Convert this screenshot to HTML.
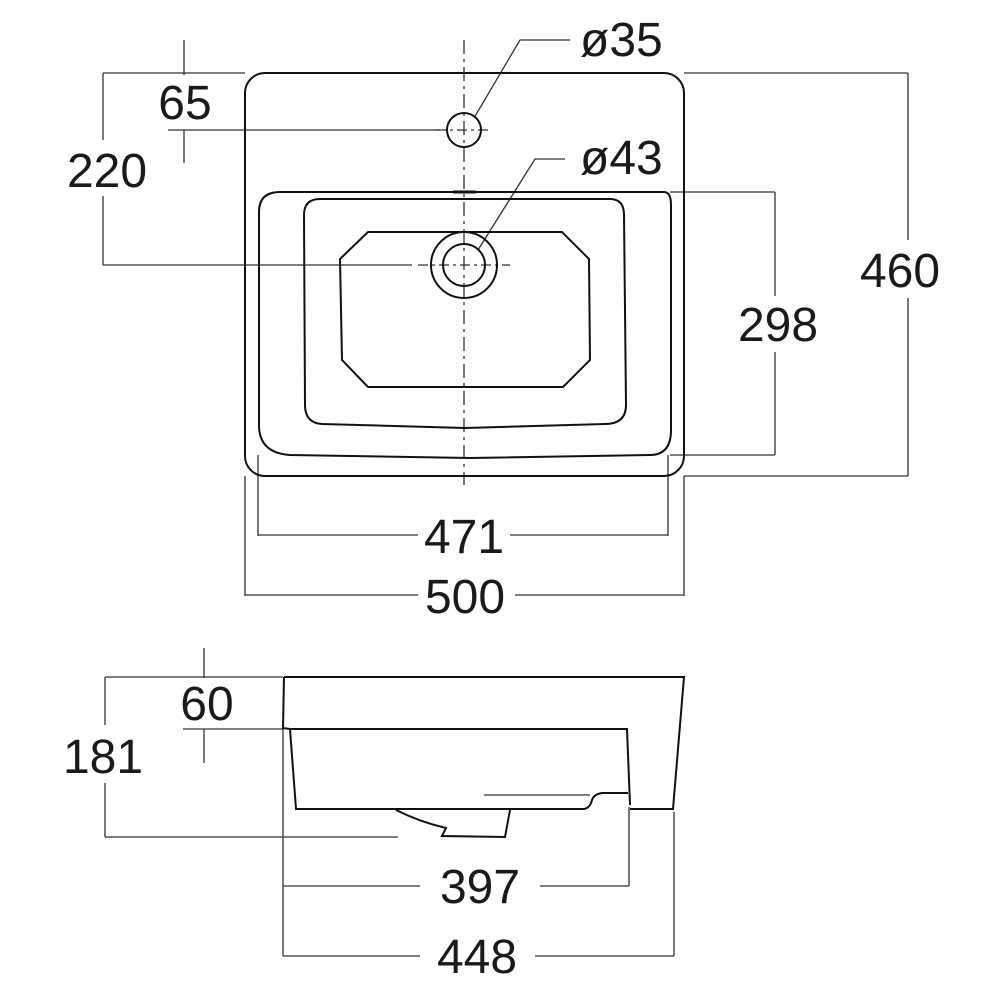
<!DOCTYPE html>
<html><head><meta charset="utf-8"><style>
html,body{margin:0;padding:0;background:#fff;}
svg{display:block;}
text{font-family:"Liberation Sans",Arial,sans-serif;font-size:48px;fill:#1a1a1a;}
</style></head><body>
<svg width="1000" height="1000" viewBox="0 0 1000 1000" xmlns="http://www.w3.org/2000/svg">
<g fill="none" stroke="#333" stroke-width="1.3">
<!-- 65 -->
<line x1="184" y1="40" x2="184" y2="75"/>
<line x1="184" y1="130" x2="184" y2="163"/>
<line x1="103" y1="73" x2="245" y2="73"/>
<line x1="168" y1="130" x2="440" y2="130"/>
<!-- 220 -->
<line x1="103" y1="73" x2="103" y2="140"/>
<line x1="103" y1="196" x2="103" y2="265"/>
<line x1="103" y1="265" x2="412" y2="265"/>
<!-- 460 -->
<line x1="684" y1="73" x2="908" y2="73"/>
<line x1="908" y1="73" x2="908" y2="240"/>
<line x1="908" y1="298" x2="908" y2="476"/>
<line x1="684" y1="476" x2="908" y2="476"/>
<!-- 298 -->
<line x1="670" y1="192" x2="775" y2="192"/>
<line x1="775" y1="192" x2="775" y2="296"/>
<line x1="775" y1="352" x2="775" y2="455"/>
<line x1="670" y1="455" x2="775" y2="455"/>
<!-- 471 -->
<line x1="258" y1="455" x2="258" y2="536"/>
<line x1="668" y1="455" x2="668" y2="536"/>
<line x1="258" y1="535" x2="418" y2="535"/>
<line x1="510" y1="535" x2="668" y2="535"/>
<!-- 500 -->
<line x1="245" y1="476" x2="245" y2="596"/>
<line x1="684" y1="476" x2="684" y2="596"/>
<line x1="245" y1="595" x2="418" y2="595"/>
<line x1="515" y1="595" x2="684" y2="595"/>
<!-- leaders -->
<polyline points="474,118 520,40 570,40"/>
<polyline points="478,250 535,159 565,159"/>
<!-- centerlines -->
<line x1="464" y1="40" x2="464" y2="485" stroke-dasharray="14,5,3,5"/>
<line x1="436" y1="130" x2="492" y2="130" stroke-dasharray="10,4,3,4"/>
<line x1="418" y1="265" x2="510" y2="265" stroke-dasharray="10,4,3,4"/>
</g>
<g fill="none" stroke="#111" stroke-width="2">
<rect x="245" y="73" width="439" height="403" rx="20"/>
<path d="M280,192 L664,192 Q671,192 671,205 L671,430 Q671,455 650,455 L470,458 L290,455 Q259,453 259,425 L259,212 Q259,192 280,192 Z"/>
<path d="M320,199 L610,199 Q624,199 624,215 L626,405 Q626,424 605,424 L465,428 L322,424 Q305,423 305,405 L304,215 Q304,199 320,199 Z"/>
<path d="M368,232 L562,232 L589,259 L590,360 L563,387 L368,387 L342,360 L340,259 Z"/>
<circle cx="464" cy="265" r="33"/>
<circle cx="464" cy="265" r="21"/>
<circle cx="464" cy="130" r="17"/>
<line x1="453" y1="192" x2="476" y2="192" stroke-width="3"/>
</g>
<!-- side view -->
<g fill="none" stroke="#333" stroke-width="1.3">
<line x1="204" y1="648" x2="204" y2="678"/>
<line x1="204" y1="729" x2="204" y2="763"/>
<line x1="105" y1="677" x2="283" y2="677"/>
<line x1="183" y1="729" x2="283" y2="729"/>
<line x1="105" y1="677" x2="105" y2="725"/>
<line x1="105" y1="783" x2="105" y2="837"/>
<line x1="105" y1="837" x2="398" y2="837"/>
<line x1="283" y1="729" x2="283" y2="956"/>
<line x1="283" y1="886" x2="420" y2="886"/>
<line x1="540" y1="886" x2="629" y2="886"/>
<line x1="629" y1="807" x2="629" y2="886"/>
<line x1="283" y1="956" x2="420" y2="956"/>
<line x1="535" y1="956" x2="674" y2="956"/>
<line x1="674" y1="812" x2="674" y2="956"/>
<line x1="484" y1="795" x2="590" y2="795"/>
</g>
<g fill="none" stroke="#111" stroke-width="2">
<path d="M284,677 L684,677 L673,809 L630,809"/>
<path d="M284,677 L283,728 L290,729 L296,809 L584,809 Q590,808 592,800 Q594,794 602,793 L628,793"/>
<path d="M290,729 L627,729 L630,805"/>
<path d="M396,810 Q420,822 446,828 L442,836 L505,837 L510,810"/>
</g>
<g>
<text x="185" y="119" text-anchor="middle">65</text>
<text x="107" y="187" text-anchor="middle">220</text>
<text x="900" y="287" text-anchor="middle">460</text>
<text x="778" y="341" text-anchor="middle">298</text>
<text x="464" y="553" text-anchor="middle">471</text>
<text x="465" y="613" text-anchor="middle">500</text>
<text x="580" y="56">ø35</text>
<text x="580" y="174">ø43</text>
<text x="207" y="720" text-anchor="middle">60</text>
<text x="103" y="773" text-anchor="middle">181</text>
<text x="480" y="903" text-anchor="middle">397</text>
<text x="477" y="973" text-anchor="middle">448</text>
</g>
</svg>
</body></html>
